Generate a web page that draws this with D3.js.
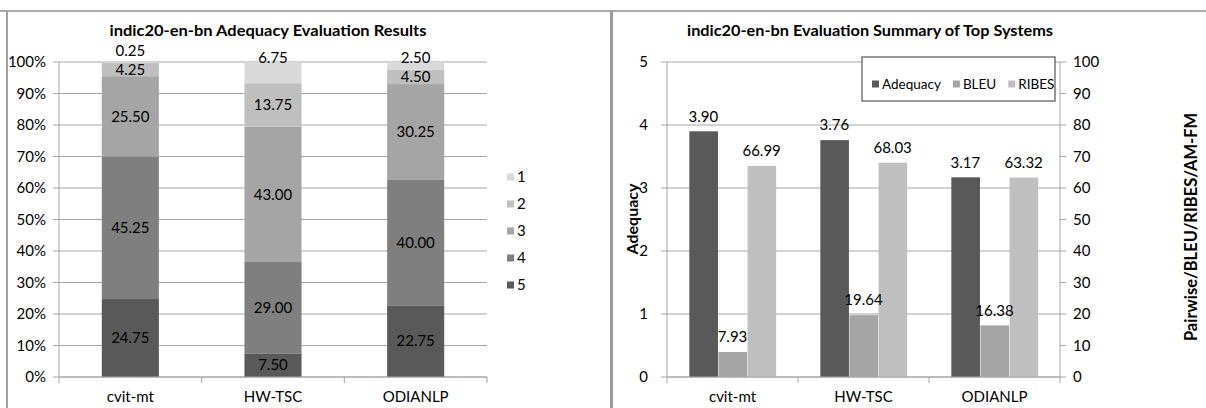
<!DOCTYPE html>
<html>
<head>
<meta charset="utf-8">
<script src="https://cdn.jsdelivr.net/npm/d3@7"></script>
<style>
  body { margin: 0; background: #fff; }
  svg { display: block; font-family: Lato, "Open Sans", sans-serif; }
</style>
</head>
<body>
<svg id="chart" width="1206" height="408"></svg>
<script>
// ---- data ----
var systems = ["cvit-mt", "HW-TSC", "ODIANLP"];
var grades = ["5", "4", "3", "2", "1"];          // stacked bottom -> top
var grade5 = [24.75, 7.50, 22.75];
var grade4 = [45.25, 29.00, 40.00];
var grade3 = [25.50, 43.00, 30.25];
var grade2 = [4.25, 13.75, 4.50];
var grade1 = [0.25, 6.75, 2.50];
var pctTicks = [0, 10, 20, 30, 40, 50, 60, 70, 80, 90, 100];

var metrics = ["Adequacy", "BLEU", "RIBES"];
var adequacy = [3.90, 3.76, 3.17];
var bleu = [7.93, 19.64, 16.38];
var ribes = [66.99, 68.03, 63.32];
var adqTicks = [0, 1, 2, 3, 4, 5];
var scoreTicks = [0, 10, 20, 30, 40, 50, 60, 70, 80, 90, 100];

var gradeColor = {"5": "#595959", "4": "#7f7f7f", "3": "#a5a5a5", "2": "#bfbfbf", "1": "#d9d9d9"};
var metricColor = {"Adequacy": "#595959", "BLEU": "#a5a5a5", "RIBES": "#bfbfbf"};

var svg = d3.select("#chart");
var gridCol = "#a6a6a6", txt = "#000";
var fs = 15;

// frame lines
svg.append("line").attr("x1", 0).attr("x2", 1206).attr("y1", 11).attr("y2", 11)
    .attr("stroke", "#8c8c8c").attr("stroke-width", 1.5);
svg.append("line").attr("x1", 7).attr("x2", 7).attr("y1", 11).attr("y2", 408)
    .attr("stroke", "#a0a0a0").attr("stroke-width", 2);
svg.append("line").attr("x1", 611.5).attr("x2", 611.5).attr("y1", 11).attr("y2", 408)
    .attr("stroke", "#9a9a9a").attr("stroke-width", 3);

// ================= left: stacked 100% bars =================
var L = svg.append("g");
var yL = d3.scaleLinear().domain([0, 100]).range([377, 62]);
var xL = d3.scaleBand().domain(systems).range([59, 487]).paddingInner(0.6).paddingOuter(0.3);

L.append("text").attr("x", 268).attr("y", 36).attr("text-anchor", "middle")
    .attr("font-size", 15.5).attr("font-weight", "bold").attr("fill", txt)
    .attr("textLength", 317).attr("lengthAdjust", "spacingAndGlyphs")
    .text("indic20-en-bn Adequacy Evaluation Results");

L.selectAll(".grid").data(pctTicks).enter().append("line")
    .attr("x1", 53).attr("x2", 487)
    .attr("y1", d => yL(d)).attr("y2", d => yL(d))
    .attr("stroke", gridCol).attr("stroke-width", 1);
L.append("line").attr("x1", 59).attr("x2", 59).attr("y1", 62).attr("y2", 377)
    .attr("stroke", gridCol);
L.selectAll(".yt").data(pctTicks).enter().append("text")
    .attr("x", 46).attr("y", d => yL(d)).attr("dy", "0.35em")
    .attr("text-anchor", "end").attr("font-size", fs).attr("fill", txt)
    .text(d => d + "%");

var gradeRows = {"5": grade5, "4": grade4, "3": grade3, "2": grade2, "1": grade1};
var table = systems.map(function(s, i) {
    var o = {system: s};
    grades.forEach(g => o[g] = gradeRows[g][i]);
    return o;
});
var stack = d3.stack().keys(grades)(table);

var layers = L.selectAll(".layer").data(stack).enter().append("g")
    .attr("fill", d => gradeColor[d.key]);
layers.selectAll("rect").data(d => d).enter().append("rect")
    .attr("x", d => xL(d.data.system))
    .attr("width", xL.bandwidth())
    .attr("y", d => yL(d[1]))
    .attr("height", d => yL(d[0]) - yL(d[1]));

layers.each(function(layer) {
    d3.select(this).selectAll("text").data(layer).enter().append("text")
        .attr("x", d => xL(d.data.system) + xL.bandwidth() / 2)
        .attr("y", function(d) {
            var v = d[1] - d[0];
            if (layer.key === "1") return yL(d[1]) - (v < 1 ? 11 : 4);
            return (yL(d[0]) + yL(d[1])) / 2;
        })
        .attr("dy", "0.35em").attr("text-anchor", "middle")
        .attr("font-size", fs).attr("fill", txt)
        .text(d => (d[1] - d[0]).toFixed(2));
});

// x axis
L.append("line").attr("x1", 59).attr("x2", 487).attr("y1", 377).attr("y2", 377).attr("stroke", gridCol);
var bL = [59].concat(systems.map(s => xL(s) + xL.bandwidth() / 2 + xL.step() / 2));
L.selectAll(".xt").data(bL).enter().append("line")
    .attr("x1", d => d).attr("x2", d => d).attr("y1", 377).attr("y2", 383).attr("stroke", gridCol);
L.selectAll(".xl").data(systems).enter().append("text")
    .attr("x", d => xL(d) + xL.bandwidth() / 2).attr("y", 397).attr("dy", "0.35em")
    .attr("text-anchor", "middle").attr("font-size", fs).attr("fill", txt).text(d => d);

// legend
var legL = L.selectAll(".leg").data(grades.slice().reverse()).enter().append("g")
    .attr("transform", (d, i) => "translate(507," + (177 + i * 27) + ")");
legL.append("rect").attr("x", 0).attr("y", -3.5).attr("width", 7).attr("height", 7)
    .attr("fill", d => gradeColor[d]);
legL.append("text").attr("x", 10).attr("y", 0).attr("dy", "0.35em")
    .attr("font-size", fs).attr("fill", txt).text(d => d);

// ================= right: grouped bars, two axes =================
var R = svg.append("g");
var yA = d3.scaleLinear().domain([0, 5]).range([377, 62]);
var yS = d3.scaleLinear().domain([0, 100]).range([377, 62]);
var xR = d3.scaleBand().domain(systems).range([667, 1060]).paddingInner(1 / 3).paddingOuter(1 / 6);
var xM = d3.scaleBand().domain(metrics).range([0, xR.bandwidth()]);

R.append("text").attr("x", 870).attr("y", 36).attr("text-anchor", "middle")
    .attr("font-size", 15.5).attr("font-weight", "bold").attr("fill", txt)
    .attr("textLength", 366).attr("lengthAdjust", "spacingAndGlyphs")
    .text("indic20-en-bn Evaluation Summary of Top Systems");

R.selectAll(".grid").data(adqTicks).enter().append("line")
    .attr("x1", 661).attr("x2", 1060)
    .attr("y1", d => yA(d)).attr("y2", d => yA(d))
    .attr("stroke", gridCol);
R.append("line").attr("x1", 667).attr("x2", 667).attr("y1", 62).attr("y2", 377).attr("stroke", gridCol);
R.append("line").attr("x1", 1060).attr("x2", 1060).attr("y1", 62).attr("y2", 377).attr("stroke", gridCol);
R.selectAll(".yt").data(adqTicks).enter().append("text")
    .attr("x", 648).attr("y", d => yA(d)).attr("dy", "0.35em")
    .attr("text-anchor", "end").attr("font-size", fs).attr("fill", txt).text(d => d);
R.selectAll(".rtk").data(scoreTicks).enter().append("line")
    .attr("x1", 1060).attr("x2", 1066)
    .attr("y1", d => yS(d)).attr("y2", d => yS(d)).attr("stroke", gridCol);
R.selectAll(".rt").data(scoreTicks).enter().append("text")
    .attr("x", 1073).attr("y", d => yS(d)).attr("dy", "0.35em")
    .attr("font-size", fs).attr("fill", txt).text(d => d);

R.append("text").attr("transform", "translate(638,219) rotate(-90)")
    .attr("text-anchor", "middle").attr("font-size", 16).attr("font-weight", "bold")
    .attr("fill", txt).text("Adequacy");
R.append("text").attr("transform", "translate(1197,227) rotate(-90)")
    .attr("text-anchor", "middle").attr("font-size", 16.5).attr("font-weight", "bold")
    .attr("fill", txt).text("Pairwise/BLEU/RIBES/AM-FM");

var values = {"Adequacy": adequacy, "BLEU": bleu, "RIBES": ribes};
var cells = [];
systems.forEach(function(s, i) {
    metrics.forEach(function(m) {
        cells.push({system: s, metric: m, value: values[m][i], y: m === "Adequacy" ? yA : yS});
    });
});
R.selectAll(".bar").data(cells).enter().append("rect")
    .attr("x", d => xR(d.system) + xM(d.metric) + 0.5)
    .attr("width", xM.bandwidth() - 0.5)
    .attr("y", d => d.y(d.value))
    .attr("height", d => 377 - d.y(d.value))
    .attr("fill", d => metricColor[d.metric]);
R.selectAll(".val").data(cells).enter().append("text")
    .attr("x", d => xR(d.system) + xM(d.metric) + xM.bandwidth() / 2)
    .attr("y", d => d.y(d.value) - 15).attr("dy", "0.35em")
    .attr("text-anchor", "middle").attr("font-size", fs).attr("fill", txt)
    .text(d => d.value.toFixed(2));

R.append("line").attr("x1", 667).attr("x2", 1060).attr("y1", 377).attr("y2", 377).attr("stroke", gridCol);
var bR = [667].concat(systems.map(s => xR(s) + xR.bandwidth() / 2 + xR.step() / 2));
R.selectAll(".xt").data(bR).enter().append("line")
    .attr("x1", d => d).attr("x2", d => d).attr("y1", 377).attr("y2", 383).attr("stroke", gridCol);
R.selectAll(".xl").data(systems).enter().append("text")
    .attr("x", d => xR(d) + xR.bandwidth() / 2).attr("y", 397).attr("dy", "0.35em")
    .attr("text-anchor", "middle").attr("font-size", fs).attr("fill", txt).text(d => d);

// legend box, items laid out by measured text width
R.append("rect").attr("x", 862).attr("y", 57).attr("width", 193).attr("height", 44)
    .attr("fill", "#fff").attr("stroke", "#555").attr("stroke-width", 1.2);
var legR = R.selectAll(".leg").data(metrics).enter().append("g");
legR.append("rect").attr("y", -3.5).attr("width", 7).attr("height", 7).attr("fill", d => metricColor[d]);
legR.append("text").attr("x", 10).attr("dy", "0.35em").attr("font-size", 13.5).attr("fill", txt).text(d => d);
var cx = 872;
legR.each(function() {
    d3.select(this).attr("transform", "translate(" + cx + ",84)");
    cx += 10 + d3.select(this).select("text").node().getComputedTextLength() + 12;
});
</script>
</body>
</html>
